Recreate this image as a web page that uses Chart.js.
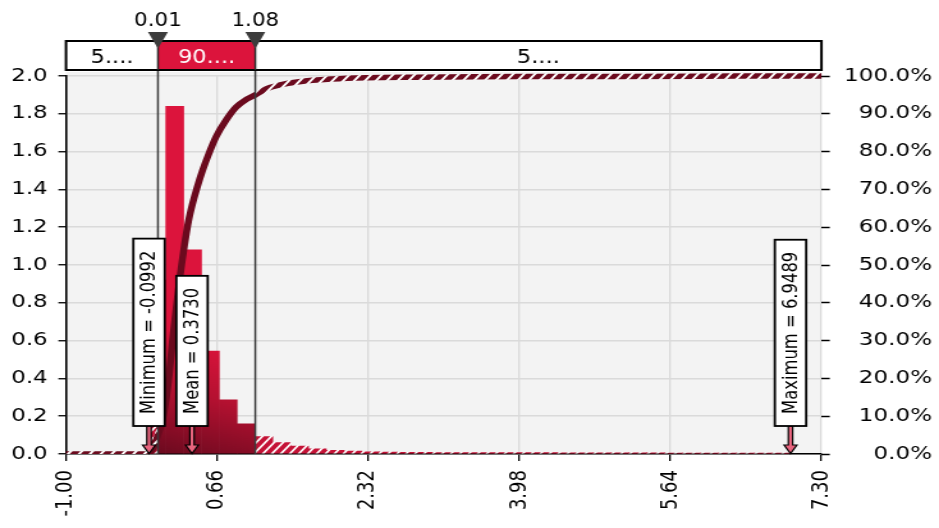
<!DOCTYPE html>
<html>
<head>
<meta charset="utf-8">
<title>Distribution</title>
<script src="https://cdn.jsdelivr.net/npm/chart.js@4.4.0/dist/chart.umd.min.js"></script>
<style>
  html, body { margin: 0; padding: 0; background: #ffffff; }
</style>
</head>
<body>
<!-- The chart is laid out on a 734px-wide canvas and shown 939px wide,
     which gives the wide lettering of the original report. -->
<canvas id="chart" width="734" height="528" style="display:block;width:939px;height:528px;"></canvas>
<script>
const FONT = 'DejaVu Sans';

// x axis tick values
const xTicks = [-1.00, 0.66, 2.32, 3.98, 5.64, 7.30];

// delimiters of the 90% band and the band captions
const markers = [0.01, 1.08];
const bandLabels = ['5....', '90....', '5....'];

// histogram: bins start at the minimum, equal width
const binStart = -0.0992;
const binWidth = 0.19578;
const density = [
  0.92, 1.84, 1.08, 0.545, 0.286, 0.159,
  0.092, 0.060, 0.042, 0.028, 0.019, 0.016, 0.012,
  0.010, 0.009, 0.009, 0.008, 0.008, 0.008, 0.007, 0.007, 0.007, 0.007,
  0.006, 0.006, 0.006, 0.006, 0.006, 0.006, 0.005, 0.005, 0.005, 0.005,
  0.005, 0.005, 0.005
];

// cumulative curve
const cdfX = [-1.00, -0.0992, -0.05, 0.01, 0.06, 0.10, 0.14, 0.17, 0.21, 0.25,
  0.30, 0.345, 0.39, 0.44, 0.50, 0.57, 0.65, 0.76, 0.87, 0.98, 1.08, 1.20,
  1.34, 1.56, 1.92, 2.30, 2.85, 3.50, 4.12, 5.00, 6.00, 6.9489, 7.30];
const cdfP = [0, 0, 0.012, 0.05, 0.09, 0.145, 0.225, 0.30, 0.385, 0.465,
  0.55, 0.615, 0.662, 0.705, 0.75, 0.795, 0.84, 0.884, 0.918, 0.938, 0.95, 0.966,
  0.976, 0.985, 0.992, 0.9955, 0.997, 0.998, 0.9985, 0.999, 0.9995, 1, 1];

// summary statistics shown as flags
const statNames = ['Minimum', 'Mean', 'Maximum'];
const statValues = [-0.0992, 0.3730, 6.9489];

const BAND_TOP = 41;
const BAND_BOTTOM = 70;

// Fill that is solid between the two delimiters and hatched outside them.
const fillCache = {};
function regionFill(chart, kind) {
  const bar = kind === 'bar';
  const { width, height, chartArea, scales } = chart;
  if (!chartArea || !scales.x) return bar ? '#c41236' : '#6b0a1e';
  const xLo = scales.x.getPixelForValue(markers[0]);
  const xHi = scales.x.getPixelForValue(markers[1]);
  const key = [kind, width, height, xLo, xHi, chartArea.bottom].join('|');
  if (fillCache[key]) return fillCache[key];

  const c = document.createElement('canvas');
  c.width = width;
  c.height = height;
  const g = c.getContext('2d');
  g.fillStyle = bar ? '#c41236' : '#6b0a1e';
  g.fillRect(0, 0, width, height);

  g.strokeStyle = '#ffffff';
  g.lineWidth = bar ? 1.7 : 2.0;
  const step = bar ? 7 : 8.5;
  const run = height / 1.28;
  g.beginPath();
  for (let x = -run; x < width + step; x += step) {
    g.moveTo(x, height);
    g.lineTo(x + run, 0);
  }
  g.stroke();

  if (bar) {
    const b = chartArea.bottom;
    const grad = g.createLinearGradient(xLo + 3, b, xLo + 42, b - 114);
    grad.addColorStop(0, '#6c0a1f');
    grad.addColorStop(0.55, '#b51131');
    grad.addColorStop(1, '#dc143c');
    g.fillStyle = grad;
  } else {
    g.fillStyle = '#6b0a1e';
  }
  g.fillRect(xLo, 0, xHi - xLo, height);

  const pat = chart.ctx.createPattern(c, 'no-repeat');
  fillCache[key] = pat;
  return pat;
}

// Text narrowed horizontally (header captions use a tighter face).
function narrowText(ctx, text, cx, y, size, color, k) {
  ctx.save();
  ctx.translate(cx, y);
  ctx.scale(k, 1);
  ctx.font = size + 'px "' + FONT + '"';
  ctx.textAlign = 'center';
  ctx.textBaseline = 'alphabetic';
  ctx.fillStyle = color;
  ctx.fillText(text, 0, 0);
  ctx.restore();
}

const plotBackground = {
  id: 'plotBackground',
  beforeDraw(chart) {
    const { ctx, chartArea: a } = chart;
    ctx.save();
    ctx.fillStyle = '#f3f3f3';
    ctx.fillRect(a.left, a.top - 4, a.right - a.left, a.bottom - a.top + 4);
    ctx.restore();
  }
};

const bandOverlay = {
  id: 'bandOverlay',
  afterDatasetsDraw(chart) {
    const { ctx, chartArea: a, scales: { x } } = chart;
    ctx.save();
    ctx.strokeStyle = '#3a3a3a';
    ctx.lineWidth = 1.5;
    markers.forEach(m => {
      const px = x.getPixelForValue(m);
      ctx.beginPath();
      ctx.moveTo(px, BAND_BOTTOM);
      ctx.lineTo(px, a.bottom);
      ctx.stroke();
    });
    ctx.restore();
  },
  afterDraw(chart) {
    const { ctx, chartArea: a, scales: { x } } = chart;
    const edges = [a.left, ...markers.map(m => x.getPixelForValue(m)), a.right];
    const h = BAND_BOTTOM - BAND_TOP;
    ctx.save();

    // percentage band
    ctx.fillStyle = '#ffffff';
    ctx.fillRect(a.left, BAND_TOP, a.right - a.left, h);
    ctx.fillStyle = '#dc143c';
    ctx.fillRect(edges[1], BAND_TOP, edges[2] - edges[1], h);
    ctx.strokeStyle = '#000000';
    ctx.lineWidth = 2;
    ctx.strokeRect(a.left, BAND_TOP, a.right - a.left, h);
    ctx.strokeStyle = '#2a2a2a';
    ctx.lineWidth = 1.5;
    [edges[1], edges[2]].forEach(px => {
      ctx.beginPath();
      ctx.moveTo(px, BAND_TOP);
      ctx.lineTo(px, BAND_BOTTOM);
      ctx.stroke();
    });
    bandLabels.forEach((t, i) => {
      narrowText(ctx, t, (edges[i] + edges[i + 1]) / 2, 62.5, 20, i === 1 ? '#ffffff' : '#000000', 0.88);
    });

    // delimiter handles and values
    markers.forEach(m => {
      const px = x.getPixelForValue(m);
      ctx.fillStyle = '#3c3c3c';
      ctx.beginPath();
      ctx.moveTo(px - 7.8, 32);
      ctx.lineTo(px + 7.8, 32);
      ctx.lineTo(px, 48.5);
      ctx.closePath();
      ctx.fill();
      narrowText(ctx, m.toFixed(2), px, 25.5, 19, '#000000', 0.88);
    });

    // statistic flags
    const boxW = 24.5;
    const boxBottom = 426;
    ctx.font = '16.4px "' + FONT + '"';
    statNames.forEach((name, i) => {
      const v = statValues[i];
      const px = x.getPixelForValue(v) + 0.8;
      const text = name + ' = ' + v.toFixed(4);
      const tw = ctx.measureText(text).width;
      const boxH = tw + 24;
      const top = boxBottom - boxH;

      // arrow down to the axis
      ctx.beginPath();
      ctx.moveTo(px - 1.7, boxBottom);
      ctx.lineTo(px - 1.7, 445);
      ctx.lineTo(px - 5, 445);
      ctx.lineTo(px, a.bottom - 0.5);
      ctx.lineTo(px + 5, 445);
      ctx.lineTo(px + 1.7, 445);
      ctx.lineTo(px + 1.7, boxBottom);
      ctx.closePath();
      ctx.fillStyle = '#e8647e';
      ctx.fill();
      ctx.strokeStyle = '#000000';
      ctx.lineWidth = 1.2;
      ctx.stroke();

      ctx.fillStyle = '#ffffff';
      ctx.fillRect(px - boxW / 2, top, boxW, boxH);
      ctx.lineWidth = 1.8;
      ctx.strokeRect(px - boxW / 2, top, boxW, boxH);

      ctx.save();
      ctx.translate(px + 0.5, top + boxH / 2);
      ctx.rotate(-Math.PI / 2);
      ctx.textAlign = 'center';
      ctx.textBaseline = 'middle';
      ctx.fillStyle = '#000000';
      ctx.fillText(text, 0, 0);
      ctx.restore();
    });

    ctx.restore();
  }
};

const tickFont = { family: FONT, size: 18 };

const chart = new Chart(document.getElementById('chart'), {
  type: 'line',
  data: {
    datasets: [
      {
        type: 'line',
        label: 'Cumulative',
        data: cdfX.map((v, i) => ({ x: v, y: cdfP[i] })),
        xAxisID: 'x',
        yAxisID: 'y2',
        borderColor: ctx => regionFill(ctx.chart, 'line'),
        borderWidth: 5.5,
        pointRadius: 0,
        fill: false,
        cubicInterpolationMode: 'monotone',
        clip: { left: 10, top: 6, right: 10, bottom: 0 },
        order: 1
      },
      {
        type: 'bar',
        label: 'Density',
        data: density.map((d, i) => ({ x: binStart + (i + 0.5) * binWidth, y: d })),
        xAxisID: 'x',
        yAxisID: 'y',
        backgroundColor: ctx => regionFill(ctx.chart, 'bar'),
        borderWidth: 0,
        barPercentage: 1,
        categoryPercentage: 1,
        order: 2
      }
    ]
  },
  options: {
    responsive: false,
    devicePixelRatio: 1,
    animation: false,
    events: [],
    layout: { padding: { top: 76, right: 5.5, bottom: 0, left: 0 } },
    plugins: {
      legend: { display: false },
      tooltip: { enabled: false }
    },
    scales: {
      x: {
        type: 'linear',
        position: 'bottom',
        min: xTicks[0],
        max: xTicks[xTicks.length - 1],
        offset: false,
        bounds: 'data',
        afterBuildTicks: s => { s.ticks = xTicks.map(v => ({ value: v })); },
        afterFit: s => { s.height = 74; },
        grid: {
          offset: false,
          color: '#dadada',
          lineWidth: 1.3,
          tickColor: '#000000',
          tickLength: 7,
          tickWidth: 1.3
        },
        border: { color: '#000000', width: 1.6 },
        ticks: {
          font: tickFont,
          color: '#000000',
          padding: 9,
          minRotation: 90,
          maxRotation: 90,
          autoSkip: false,
          callback: v => Number(v).toFixed(2)
        }
      },
      y: {
        type: 'linear',
        position: 'left',
        min: 0,
        max: 2,
        afterFit: s => { s.width = 51.6; },
        grid: {
          color: '#dadada',
          lineWidth: 1.5,
          tickColor: '#000000',
          tickLength: 6,
          tickWidth: 1.3
        },
        border: { color: '#000000', width: 1.6 },
        ticks: {
          stepSize: 0.2,
          font: tickFont,
          color: '#000000',
          padding: 8.3,
          callback: v => Number(v).toFixed(1)
        }
      },
      y2: {
        type: 'linear',
        position: 'right',
        min: 0,
        max: 1,
        afterFit: s => { s.width = 86.4; },
        grid: {
          drawOnChartArea: false,
          tickColor: '#000000',
          tickLength: 6.5,
          tickWidth: 1.5
        },
        border: { display: false },
        ticks: {
          stepSize: 0.1,
          font: tickFont,
          color: '#000000',
          crossAlign: 'far',
          padding: 0,
          callback: v => (Number(v) * 100).toFixed(1) + '%'
        }
      }
    }
  },
  plugins: [plotBackground, bandOverlay]
});

// keep the displayed size wider than the drawing buffer
chart.canvas.style.width = '939px';
chart.canvas.style.height = '528px';
</script>
</body>
</html>
